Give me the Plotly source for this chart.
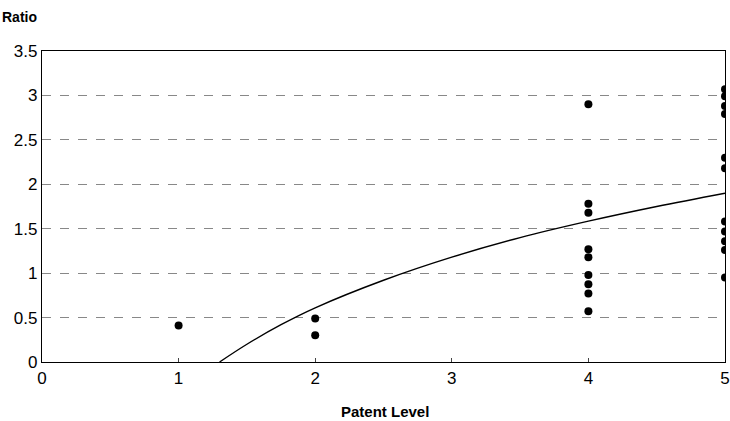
import plotly.graph_objects as go

# Observed data points (Patent Level vs Ratio)
level_1_x = [1]
level_1_y = [0.41]
level_2_x = [2, 2]
level_2_y = [0.49, 0.30]
level_4_x = [4] * 9
level_4_y = [2.90, 1.78, 1.68, 1.27, 1.18, 0.98, 0.875, 0.77, 0.57]
level_5_x = [5] * 11
level_5_y = [3.07, 2.99, 2.88, 2.79, 2.30, 2.18, 1.58, 1.47, 1.36, 1.26, 0.95]

# Trend curve
trend_x = [1.3, 1.5, 1.75, 2.0, 2.5, 3.0, 3.5, 4.0, 4.5, 5.0]
trend_y = [0.0, 0.20, 0.42, 0.61, 0.92, 1.18, 1.40, 1.585, 1.75, 1.90]

x_ticks = [0, 1, 2, 3, 4, 5]
y_ticks = [0, 0.5, 1, 1.5, 2, 2.5, 3, 3.5]
y_tick_text = ["0", "0.5", "1", "1.5", "2", "2.5", "3", "3.5"]

pts_x = level_1_x + level_2_x + level_4_x + level_5_x
pts_y = level_1_y + level_2_y + level_4_y + level_5_y

fig = go.Figure()
fig.add_trace(go.Scatter(x=trend_x, y=trend_y, mode="lines",
                         line=dict(color="black", width=1.4, shape="spline"),
                         hoverinfo="skip", showlegend=False))
fig.add_trace(go.Scatter(x=pts_x, y=pts_y, mode="markers",
                         marker=dict(color="black", size=8),
                         cliponaxis=True, showlegend=False))

font = "Liberation Sans, Arial, sans-serif"
fig.update_layout(
    width=730, height=421,
    margin=dict(l=42, r=5, t=51, b=59, autoexpand=False),
    paper_bgcolor="white", plot_bgcolor="white",
    font=dict(family=font, color="black"),
    xaxis=dict(range=[0, 5], tickvals=x_ticks, ticks="inside", ticklen=4,
               tickcolor="#444", showgrid=False, zeroline=False,
               showline=True, linecolor="black", linewidth=1.2, mirror=True,
               tickfont=dict(size=17, family=font), fixedrange=True,
               automargin=False),
    yaxis=dict(range=[0, 3.5], tickvals=y_ticks, ticktext=y_tick_text,
               ticks="", showgrid=True, gridcolor="#888", griddash="dash",
               gridwidth=1, zeroline=False,
               showline=True, linecolor="black", linewidth=1.2, mirror=True,
               tickfont=dict(size=17, family=font), fixedrange=True,
               automargin=False),
    annotations=[
        dict(text="<b>Ratio</b>", xref="paper", yref="paper",
             x=-42/683, y=1 + 34/311, xanchor="left", yanchor="middle",
             showarrow=False, font=dict(size=14, family=font)),
        dict(text="<b>Patent Level</b>", xref="paper", yref="paper",
             x=(385-42)/683, y=-49/311, xanchor="center", yanchor="middle",
             showarrow=False, font=dict(size=15, family=font)),
    ],
)

fig.write_html("out.html", config={"displayModeBar": False},
               post_script="document.body.style.margin='0px';")
